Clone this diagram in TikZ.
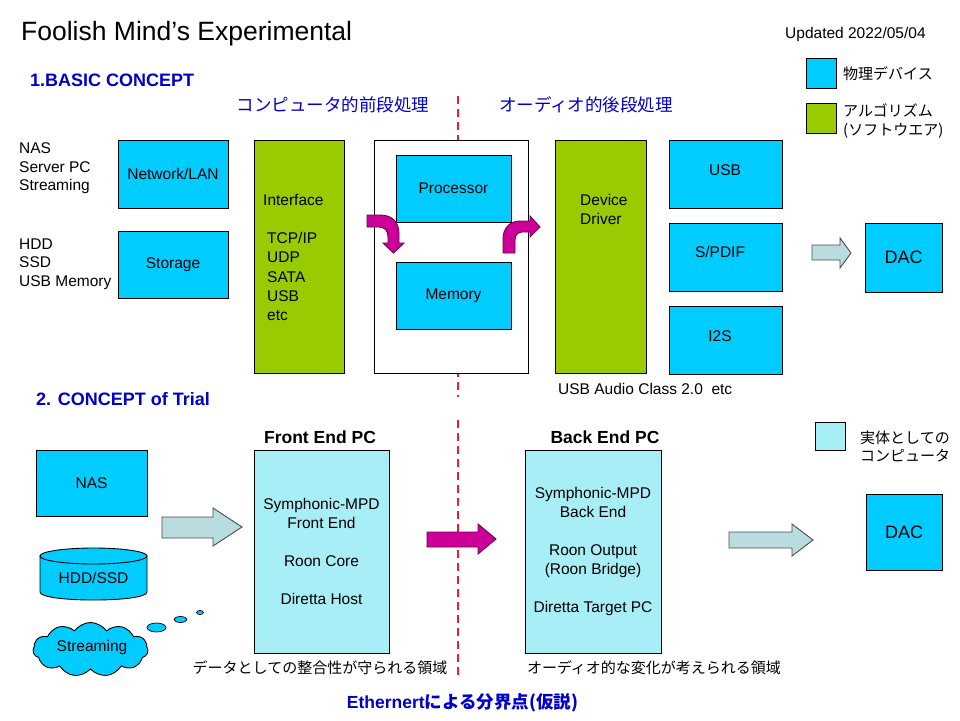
\documentclass[tikz,border=0pt]{standalone}
\usepackage{fontspec}
\setmainfont{Liberation Sans}
\newfontfamily\jp{Noto Sans CJK JP}
\usetikzlibrary{shapes.symbols}
\definecolor{devblue}{RGB}{0,204,255}
\definecolor{algogreen}{RGB}{153,204,0}
\definecolor{pcblue}{RGB}{168,238,246}
\definecolor{arrowgray}{RGB}{184,220,224}
\definecolor{magentaA}{RGB}{204,0,153}
\definecolor{magentaD}{RGB}{110,0,80}
\definecolor{headblue}{RGB}{0,0,204}
\definecolor{cutred}{RGB}{230,30,60}
\newcommand{\sz}[2]{\fontsize{#1}{#2}\selectfont}
\begin{document}
\begin{tikzpicture}[x=1pt,y=-1pt,
  every node/.style={inner sep=0pt, font=\sz{15.5}{18.5}},
  devbox/.style={draw=black, line width=0.9pt, fill=devblue},
  algobox/.style={draw=black, line width=0.9pt, fill=algogreen},
  pcbox/.style={draw=black, line width=0.9pt, fill=pcblue},
  plainbox/.style={draw=black, line width=0.9pt, fill=white},
  larrow/.style={draw=black!70, line width=0.9pt, fill=arrowgray, line join=miter},
  marrow/.style={draw=magentaD, line width=0.9pt, fill=magentaA, line join=miter},
  cutline/.style={draw=cutred, line width=1.4pt, dash pattern=on 8pt off 5pt},
  heading/.style={text=headblue, font=\sz{18}{21}\bfseries},
  jphead/.style={text=headblue, font=\jp\sz{17.5}{21}},
  jptext/.style={font=\jp\sz{15}{18.5}},
]
\useasboundingbox (0,0) rectangle (960,720);
\fill[white] (0,0) rectangle (960,720);

% ---------- titles ----------
\node[anchor=west, font=\sz{26.5}{30}] (title) at (21,34) {Foolish Mind’s Experimental};
\node[anchor=west, font=\sz{15.5}{18}] (upd) at (785,34) {Updated 2022/05/04};
\node[heading, anchor=west] (h1) at (30,80) {1.BASIC CONCEPT};
\node[jphead] (jpfront) at (333,105) {コンピュータ的前段処理};
\node[jphead] (jpback) at (586,105) {オーディオ的後段処理};

% ---------- legend ----------
\node[devbox, minimum width=30, minimum height=30] (lg1) at (821,73) {};
\node[jptext, anchor=west] (lg1t) at (843,74) {物理デバイス};
\node[algobox, minimum width=30, minimum height=30] (lg2) at (821,118) {};
\node[jptext, anchor=west, align=left, font=\jp\sz{15}{19}] (lg2t) at (843,121.5) {アルゴリズム\\(ソフトウエア)};

% ---------- cut lines ----------
\coordinate (c1a) at (458,96);
\coordinate (c1b) at (458,397);
\coordinate (c2a) at (458,420);
\coordinate (c2b) at (458,676);
\draw[cutline] (c1a) -- (c1b);
\draw[cutline] (c2a) -- (c2b);

% ---------- section 1 ----------
\node[anchor=west, align=left] (src1) at (19,168.5) {NAS\\Server PC\\Streaming};
\node[anchor=west, align=left] (src2) at (19,264) {HDD\\SSD\\USB Memory};
\node[devbox, minimum width=110, minimum height=68] (net) at (173,174) {Network/LAN};
\node[devbox, minimum width=110, minimum height=67] (stor) at (173,264.5) {Storage};

\node[algobox, minimum width=90, minimum height=233] (iface) at (299,256.5) {};
\node[anchor=west] (ifacet) at (263,200) {Interface};
\node[anchor=west, align=left, font=\sz{15.5}{19.2}] (ifacel) at (267,276.5) {TCP/IP\\UDP\\SATA\\USB\\etc};

\node[plainbox, minimum width=154, minimum height=233] (comp) at (451,256.5) {};
\node[devbox, minimum width=115, minimum height=67] (proc) at (453.5,188.5) {Processor};
\node[devbox, minimum width=115, minimum height=67] (mem) at (453.5,295.5) {Memory};

\node[algobox, minimum width=91, minimum height=233] (drv) at (600.5,256.5) {};
\node[anchor=west, align=left] (drvt) at (580,209.5) {Device\\Driver};

\node[devbox, minimum width=113, minimum height=68] (usb) at (725.5,174) {};
\node (usbt) at (725,170) {USB};
\node[devbox, minimum width=113, minimum height=68] (spdif) at (725.5,257) {};
\node (spdift) at (720,252) {S/PDIF};
\node[devbox, minimum width=113, minimum height=68] (i2s) at (725.5,340.5) {};
\node (i2st) at (720,336) {I2S};
\node[anchor=west] (uac) at (558,389) {USB Audio Class 2.0\ \ etc};

\node[devbox, minimum width=77, minimum height=69, font=\sz{18}{21}] (dac1) at (903.5,257.5) {DAC};

% curved arrows
\draw[marrow] (367,215) -- (380,215) .. controls (392,215) and (399,222) .. (399,234)
  -- (399,243) -- (404,243) -- (393.5,253) -- (383,243) -- (388,243) -- (388,237)
  .. controls (388,231) and (385,227) .. (379,227) -- (367,227) -- cycle;
\draw[marrow] (503,253) -- (503,239) .. controls (503,228) and (510,221) .. (520,221)
  -- (530,221) -- (530,216) -- (540,227) -- (530,237) -- (530,232) -- (522,232)
  .. controls (518,232) and (515,235) .. (515,240) -- (515,253) -- cycle;

% light arrow top
\draw[larrow] (812,245) -- (840,245) -- (840,238) -- (851,253) -- (840,268) -- (840,260) -- (812,260) -- cycle;

% ---------- section 2 ----------
\node[heading, anchor=west] (h2) at (36,399) {2. CONCEPT of Trial};
\node[font=\sz{17.5}{21}\bfseries] (fet) at (320,437) {Front End PC};
\node[font=\sz{17.5}{21}\bfseries] (bet) at (605,437) {Back End PC};

\node[pcbox, minimum width=30, minimum height=28] (lg3) at (830,436) {};
\node[jptext, anchor=west, align=left, font=\jp\sz{15}{18}] (lg3t) at (860,447) {実体としての\\コンピュータ};

\node[devbox, minimum width=111, minimum height=66] (nas) at (91.5,483) {NAS};

% cylinder
\filldraw[draw=black, line width=0.9pt, fill=devblue]
  (40,556) -- (40,592) .. controls (40,602.7) and (147,602.7) .. (147,592) -- (147,556) -- cycle;
\filldraw[draw=black, line width=0.9pt, fill=devblue] (93.5,556) ellipse [x radius=53.5, y radius=8];
\node (hdd) at (93.5,578) {HDD/SSD};

% cloud
\node[cloud, draw=black, line width=0.9pt, fill=devblue, cloud puffs=11, cloud puff arc=110,
  aspect=2.1, minimum width=115, minimum height=54] (strm) at (90.5,649.5) {};
\node (strmt) at (92,647) {Streaming};
\filldraw[draw=black, line width=0.7pt, fill=devblue] (156.5,627.5) ellipse [x radius=9.5, y radius=4.5];
\filldraw[draw=black, line width=0.7pt, fill=devblue] (180.5,619.5) ellipse [x radius=6.5, y radius=3];
\filldraw[draw=black, line width=0.7pt, fill=devblue] (200,612.5) ellipse [x radius=3.5, y radius=2];

\draw[larrow] (162,517) -- (213,517) -- (213,508) -- (242,527) -- (213,546) -- (213,538) -- (162,538) -- cycle;

\node[pcbox, minimum width=135, minimum height=203, align=center, font=\sz{15.5}{19}] (fe) at (321.5,551.5)
  {Symphonic-MPD\\Front End\\[19pt]Roon Core\\[19pt]Diretta Host};

\draw[marrow] (427,532) -- (478,532) -- (478,524) -- (496,539) -- (478,554) -- (478,547) -- (427,547) -- cycle;

\node[pcbox, minimum width=136, minimum height=203, align=center, font=\sz{15.5}{19}] (be) at (593,551.5)
  {Symphonic-MPD\\Back End\\[19pt]Roon Output\\(Roon Bridge)\\[19pt]Diretta Target PC};

\draw[larrow] (729,532) -- (792,532) -- (792,524) -- (813,540) -- (792,556) -- (792,548) -- (729,548) -- cycle;

\node[devbox, minimum width=76, minimum height=76, font=\sz{18}{21}] (dac2) at (904,532) {DAC};

\node[jptext] (zone1) at (320,668) {データとしての整合性が守られる領域};
\node[jptext] (zone2) at (654,668) {オーディオ的な変化が考えられる領域};
\node[text=headblue, font=\sz{17.5}{21}\bfseries] (eth) at (462.5,703) {Ethernert{\jp\bfseries による分界点(仮説)}};
\end{tikzpicture}
\end{document}
